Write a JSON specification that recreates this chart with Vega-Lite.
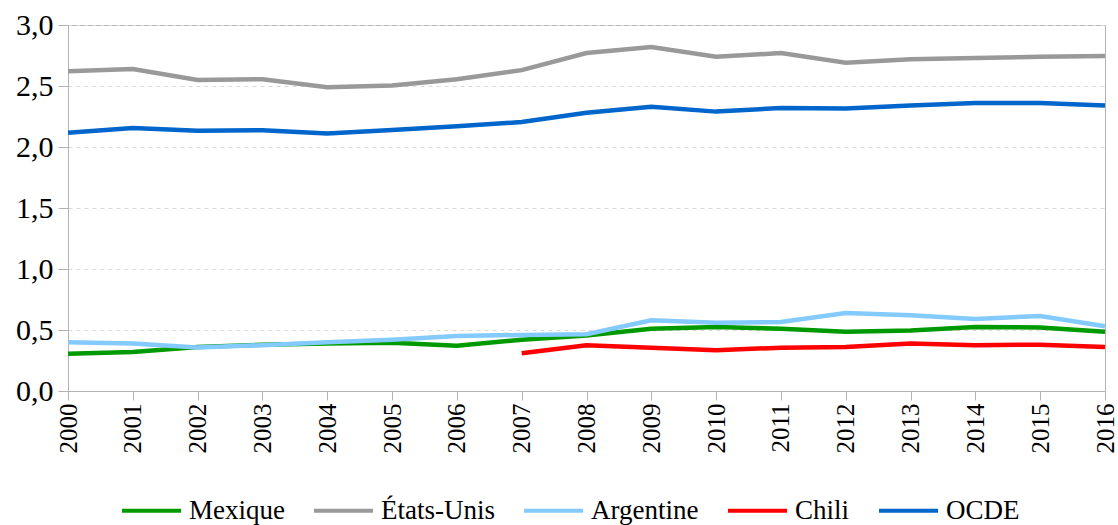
{
  "$schema": "https://vega.github.io/schema/vega-lite/v6.json",
  "width": 1037,
  "height": 366,
  "autosize": {"type": "none"},
  "padding": {"left": 68, "top": 25, "right": 13, "bottom": 134},
  "background": "white",
  "config": {
    "font": "Liberation Serif",
    "view": {"stroke": "#b3b3b3", "strokeWidth": 1},
    "axis": {"labelColor": "#000000", "domainColor": "#b3b3b3", "tickColor": "#b3b3b3"}
  },
  "data": {
    "values": [
      {"year": 2000, "pays": "Mexique", "v": 0.305},
      {"year": 2001, "pays": "Mexique", "v": 0.32},
      {"year": 2002, "pays": "Mexique", "v": 0.36},
      {"year": 2003, "pays": "Mexique", "v": 0.38},
      {"year": 2004, "pays": "Mexique", "v": 0.39},
      {"year": 2005, "pays": "Mexique", "v": 0.395},
      {"year": 2006, "pays": "Mexique", "v": 0.37},
      {"year": 2007, "pays": "Mexique", "v": 0.42},
      {"year": 2008, "pays": "Mexique", "v": 0.455},
      {"year": 2009, "pays": "Mexique", "v": 0.51},
      {"year": 2010, "pays": "Mexique", "v": 0.525},
      {"year": 2011, "pays": "Mexique", "v": 0.51},
      {"year": 2012, "pays": "Mexique", "v": 0.485},
      {"year": 2013, "pays": "Mexique", "v": 0.495},
      {"year": 2014, "pays": "Mexique", "v": 0.525},
      {"year": 2015, "pays": "Mexique", "v": 0.52},
      {"year": 2016, "pays": "Mexique", "v": 0.485},
      {"year": 2000, "pays": "États-Unis", "v": 2.62},
      {"year": 2001, "pays": "États-Unis", "v": 2.64},
      {"year": 2002, "pays": "États-Unis", "v": 2.55},
      {"year": 2003, "pays": "États-Unis", "v": 2.555},
      {"year": 2004, "pays": "États-Unis", "v": 2.49},
      {"year": 2005, "pays": "États-Unis", "v": 2.505},
      {"year": 2006, "pays": "États-Unis", "v": 2.555},
      {"year": 2007, "pays": "États-Unis", "v": 2.63},
      {"year": 2008, "pays": "États-Unis", "v": 2.77},
      {"year": 2009, "pays": "États-Unis", "v": 2.82},
      {"year": 2010, "pays": "États-Unis", "v": 2.74},
      {"year": 2011, "pays": "États-Unis", "v": 2.77},
      {"year": 2012, "pays": "États-Unis", "v": 2.69},
      {"year": 2013, "pays": "États-Unis", "v": 2.72},
      {"year": 2014, "pays": "États-Unis", "v": 2.73},
      {"year": 2015, "pays": "États-Unis", "v": 2.74},
      {"year": 2016, "pays": "États-Unis", "v": 2.745},
      {"year": 2000, "pays": "Argentine", "v": 0.40},
      {"year": 2001, "pays": "Argentine", "v": 0.39},
      {"year": 2002, "pays": "Argentine", "v": 0.357},
      {"year": 2003, "pays": "Argentine", "v": 0.376},
      {"year": 2004, "pays": "Argentine", "v": 0.40},
      {"year": 2005, "pays": "Argentine", "v": 0.42},
      {"year": 2006, "pays": "Argentine", "v": 0.45},
      {"year": 2007, "pays": "Argentine", "v": 0.46},
      {"year": 2008, "pays": "Argentine", "v": 0.465},
      {"year": 2009, "pays": "Argentine", "v": 0.58},
      {"year": 2010, "pays": "Argentine", "v": 0.56},
      {"year": 2011, "pays": "Argentine", "v": 0.565},
      {"year": 2012, "pays": "Argentine", "v": 0.64},
      {"year": 2013, "pays": "Argentine", "v": 0.62},
      {"year": 2014, "pays": "Argentine", "v": 0.59},
      {"year": 2015, "pays": "Argentine", "v": 0.615},
      {"year": 2016, "pays": "Argentine", "v": 0.53},
      {"year": 2007, "pays": "Chili", "v": 0.31},
      {"year": 2008, "pays": "Chili", "v": 0.375},
      {"year": 2009, "pays": "Chili", "v": 0.355},
      {"year": 2010, "pays": "Chili", "v": 0.335},
      {"year": 2011, "pays": "Chili", "v": 0.355},
      {"year": 2012, "pays": "Chili", "v": 0.36},
      {"year": 2013, "pays": "Chili", "v": 0.39},
      {"year": 2014, "pays": "Chili", "v": 0.375},
      {"year": 2015, "pays": "Chili", "v": 0.38},
      {"year": 2016, "pays": "Chili", "v": 0.36},
      {"year": 2000, "pays": "OCDE", "v": 2.117},
      {"year": 2001, "pays": "OCDE", "v": 2.156},
      {"year": 2002, "pays": "OCDE", "v": 2.134},
      {"year": 2003, "pays": "OCDE", "v": 2.137},
      {"year": 2004, "pays": "OCDE", "v": 2.11},
      {"year": 2005, "pays": "OCDE", "v": 2.14},
      {"year": 2006, "pays": "OCDE", "v": 2.17},
      {"year": 2007, "pays": "OCDE", "v": 2.205},
      {"year": 2008, "pays": "OCDE", "v": 2.28},
      {"year": 2009, "pays": "OCDE", "v": 2.33},
      {"year": 2010, "pays": "OCDE", "v": 2.29},
      {"year": 2011, "pays": "OCDE", "v": 2.32},
      {"year": 2012, "pays": "OCDE", "v": 2.315},
      {"year": 2013, "pays": "OCDE", "v": 2.34},
      {"year": 2014, "pays": "OCDE", "v": 2.36},
      {"year": 2015, "pays": "OCDE", "v": 2.36},
      {"year": 2016, "pays": "OCDE", "v": 2.34}
    ]
  },
  "mark": {"type": "line", "strokeWidth": 4.5, "strokeJoin": "miter", "strokeCap": "butt"},
  "encoding": {
    "x": {
      "field": "year", "type": "quantitative",
      "scale": {"domain": [2000, 2016], "nice": false, "zero": false},
      "axis": {
        "title": null, "grid": false,
        "values": [2000, 2001, 2002, 2003, 2004, 2005, 2006, 2007, 2008, 2009, 2010, 2011, 2012, 2013, 2014, 2015, 2016],
        "format": "d", "labelAngle": -90, "labelFontSize": 25, "labelPadding": 3,
        "labelFont": "Liberation Serif",
        "tickSize": 9, "labelFlush": false, "labelOverlap": false
      }
    },
    "y": {
      "field": "v", "type": "quantitative",
      "scale": {"domain": [0, 3], "nice": false},
      "axis": {
        "title": null,
        "values": [0, 0.5, 1, 1.5, 2, 2.5, 3],
        "labelExpr": "replace(format(datum.value, '.1f'), '.', ',')",
        "labelFont": "Liberation Serif",
        "labelFontSize": 30, "labelPadding": 5, "tickSize": 10,
        "gridColor": "#d9d9d9", "gridDash": [4, 4], "gridWidth": 1,
        "labelFlush": false
      }
    },
    "color": {
      "field": "pays", "type": "nominal",
      "scale": {
        "domain": ["Mexique", "États-Unis", "Argentine", "Chili", "OCDE"],
        "range": ["#009a00", "#999999", "#83caff", "#ff0000", "#0066cc"]
      },
      "legend": {
        "title": null, "orient": "none", "direction": "horizontal",
        "legendX": 52, "legendY": 454,
        "symbolType": "stroke", "symbolSize": 3481, "symbolStrokeWidth": 4,
        "labelFont": "Liberation Serif", "labelFontSize": 27, "labelColor": "#000000",
        "labelOffset": 6, "columnPadding": 21, "labelLimit": 300
      }
    }
  }
}
